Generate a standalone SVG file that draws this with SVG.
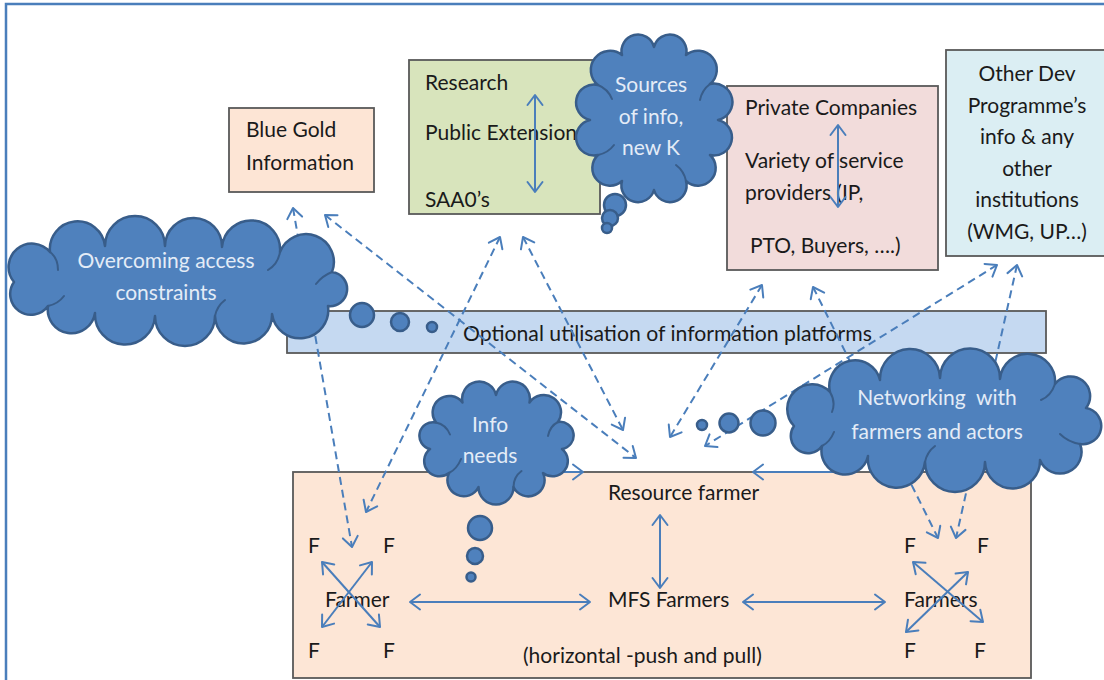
<svg xmlns="http://www.w3.org/2000/svg" width="1104" height="680" viewBox="0 0 1104 680">
  <defs>
    <style>
      .box { stroke: #595959; stroke-width: 1.8; }
      .cloud { fill: #4f81bd; stroke: #385d8a; stroke-width: 2.5; stroke-linejoin: round; }
      .crease { fill: none; stroke: #385d8a; stroke-width: 2; stroke-linecap: round; }
      .lnk { fill: none; stroke: #4a7ebb; stroke-width: 2; }
      .dash { stroke-dasharray: 8 5; }
      .t { font-family: Lato, "Open Sans", "Liberation Sans", sans-serif; font-size: 21px; fill: #1a1a1a; }
      .ct { fill: #e4ecf7; text-anchor: middle; }
      .mid { text-anchor: middle; }
    </style>
    <marker id="ah" viewBox="-12 -10 14 20" markerWidth="14" markerHeight="20" refX="0" refY="0" orient="auto-start-reverse" markerUnits="userSpaceOnUse">
      <path d="M-10,-7.5 L0,0 L-10,7.5" fill="none" stroke="#4a7ebb" stroke-width="2" stroke-linecap="round" stroke-linejoin="round"/>
    </marker>
  </defs>

  <rect width="1104" height="680" fill="#ffffff"/>
  <!-- page frame -->
  <path d="M6,690 V4 H1110" fill="none" stroke="#4a7ebb" stroke-width="2.5"/>

  <g id="blue-gold">
    <rect class="box" x="229" y="108" width="145" height="84" fill="#fde5d5"/>
    <text class="t" x="246" y="137">Blue Gold</text>
    <text class="t" x="246" y="170">Information</text>
  </g>

  <g id="research">
    <rect class="box" x="409" y="60" width="191" height="154" fill="#d8e4bc"/>
    <text class="t" x="425" y="90">Research</text>
    <text class="t" x="425" y="140">Public Extension</text>
    <text class="t" x="425" y="207">SAA0’s</text>
  </g>

  <g id="private-companies">
    <rect class="box" x="727" y="86" width="211" height="184" fill="#f2dcdb"/>
    <text class="t" x="745" y="115">Private Companies</text>
    <text class="t" x="745" y="168">Variety of service</text>
    <text class="t" x="745" y="200">providers (IP,</text>
    <text class="t" x="750" y="253">PTO, Buyers, ….)</text>
  </g>

  <g id="other-dev">
    <rect class="box" x="946" y="50" width="162" height="206" fill="#dbeef3"/>
    <text class="t mid" x="1027" y="81">Other Dev</text>
    <text class="t mid" x="1027" y="112.5">Programme’s</text>
    <text class="t mid" x="1027" y="144">info &amp; any</text>
    <text class="t mid" x="1027" y="175.5">other</text>
    <text class="t mid" x="1027" y="207">institutions</text>
    <text class="t mid" x="1027" y="238.5">(WMG, UP…)</text>
  </g>

  <g id="platforms-bar">
    <rect class="box" x="287" y="311" width="759" height="42" fill="#c5d9f1"/>
    <text class="t" x="463" y="341" style="font-size:21.2px">Optional utilisation of information platforms</text>
  </g>

  <g id="farmers-box">
    <rect class="box" x="293" y="472" width="738" height="206" fill="#fde6d6"/>
    <text class="t" x="608" y="500">Resource farmer</text>
    <text class="t" x="608" y="607">MFS Farmers</text>
    <text class="t" x="523" y="663">(horizontal -push and pull)</text>
    <text class="t" x="308" y="553">F</text>
    <text class="t" x="383" y="553">F</text>
    <text class="t" x="325" y="607">Farmer</text>
    <text class="t" x="308" y="658">F</text>
    <text class="t" x="383" y="658">F</text>
    <text class="t" x="904" y="553">F</text>
    <text class="t" x="977" y="553">F</text>
    <text class="t" x="904" y="607">Farmers</text>
    <text class="t" x="904" y="658">F</text>
    <text class="t" x="974" y="658">F</text>
  </g>

  <g id="connectors">
    <!-- two-way links inside the boxes -->
    <line class="lnk" x1="535" y1="95" x2="535" y2="192" marker-start="url(#ah)" marker-end="url(#ah)"/>
    <line class="lnk" x1="838" y1="125" x2="838" y2="207" marker-start="url(#ah)" marker-end="url(#ah)"/>
    <line class="lnk" x1="660" y1="515" x2="660" y2="588" marker-start="url(#ah)" marker-end="url(#ah)"/>
    <line class="lnk" x1="410" y1="602" x2="590" y2="602" marker-start="url(#ah)" marker-end="url(#ah)"/>
    <line class="lnk" x1="743" y1="602" x2="885" y2="602" marker-start="url(#ah)" marker-end="url(#ah)"/>
    <line class="lnk" x1="322" y1="562" x2="380" y2="627" marker-start="url(#ah)" marker-end="url(#ah)"/>
    <line class="lnk" x1="372" y1="562" x2="322" y2="627" marker-start="url(#ah)" marker-end="url(#ah)"/>
    <line class="lnk" x1="913" y1="562" x2="983" y2="622" marker-start="url(#ah)" marker-end="url(#ah)"/>
    <line class="lnk" x1="968" y1="572" x2="906" y2="632" marker-start="url(#ah)" marker-end="url(#ah)"/>
    <!-- cloud feeds into the resource farmer -->
    <line class="lnk" x1="550" y1="472" x2="583" y2="472" marker-end="url(#ah)"/>
    <line class="lnk" x1="845" y1="472" x2="753" y2="472" marker-end="url(#ah)"/>
    <!-- dashed information flows -->
    <line class="lnk dash" x1="293" y1="208" x2="352" y2="547" marker-start="url(#ah)" marker-end="url(#ah)"/>
    <line class="lnk dash" x1="325" y1="215" x2="636" y2="458" marker-start="url(#ah)" marker-end="url(#ah)"/>
    <line class="lnk dash" x1="500" y1="237" x2="366" y2="512" marker-start="url(#ah)" marker-end="url(#ah)"/>
    <line class="lnk dash" x1="523" y1="237" x2="623" y2="430" marker-start="url(#ah)" marker-end="url(#ah)"/>
    <line class="lnk dash" x1="762" y1="285" x2="670" y2="437" marker-start="url(#ah)" marker-end="url(#ah)"/>
    <line class="lnk dash" x1="813" y1="287" x2="938" y2="538" marker-start="url(#ah)" marker-end="url(#ah)"/>
    <line class="lnk dash" x1="997" y1="265" x2="705" y2="446" marker-start="url(#ah)" marker-end="url(#ah)"/>
    <line class="lnk dash" x1="1017" y1="265" x2="956" y2="538" marker-start="url(#ah)" marker-end="url(#ah)"/>
  </g>

  <g id="overcoming-cloud">
    <path class="cloud" d="M14,282 A1,1 0 0 1 50,252 A1,1 0 0 1 105,246 A1,1 0 0 1 165,246 A1,1 0 0 1 222,247 A1,1 0 0 1 280,252 A1,1 0 0 1 332,272 A1,1 0 0 1 328,306 A1,1 0 0 1 272,314 A1,1 0 0 1 215,316 A1,1 0 0 1 155,316 A1,1 0 0 1 95,313 A1,1 0 0 1 48,306 A1,1 0 0 1 14,282 Z"/>
    <path class="crease" d="M50,252 q8,6 8,18 M280,252 q-2,12 -12,18 M332,272 q-10,4 -16,12 M215,316 q2,-10 10,-16 M48,306 q10,-2 16,-10"/>
    <circle class="cloud" cx="362" cy="315" r="12"/>
    <circle class="cloud" cx="400" cy="322" r="9"/>
    <circle class="cloud" cx="432" cy="327" r="5"/>
    <text class="t ct" x="166" y="268">Overcoming access</text>
    <text class="t ct" x="166" y="300">constraints</text>
  </g>

  <g id="sources-cloud">
    <path class="cloud" d="M654,47 A1,1 0 0 1 686,55 A1,1 0 0 1 710,84 A1,1 0 0 1 718,120 A1,1 0 0 1 710,155 A1,1 0 0 1 686,181 A1,1 0 0 1 654,190 A1,1 0 0 1 622,181 A1,1 0 0 1 598,155 A1,1 0 0 1 590,120 A1,1 0 0 1 598,85 A1,1 0 0 1 622,55 A1,1 0 0 1 654,47 Z"/>
    <path class="crease" d="M598,85 q10,4 14,14 M710,84 q-8,6 -10,16 M686,181 q-2,-10 -10,-16 M598,155 q10,-2 16,-10"/>
    <circle class="cloud" cx="615" cy="205" r="11"/>
    <circle class="cloud" cx="610" cy="218" r="8"/>
    <circle class="cloud" cx="607" cy="228" r="5"/>
    <text class="t ct" x="651" y="92">Sources</text>
    <text class="t ct" x="651" y="124">of info,</text>
    <text class="t ct" x="651" y="155">new K</text>
  </g>

  <g id="info-needs-cloud">
    <path class="cloud" d="M496,395 A1,1 0 0 1 529.5,402.5 A1,1 0 0 1 558,422 A1,1 0 0 1 562,449 A1,1 0 0 1 543,473 A1,1 0 0 1 513.5,487 A1,1 0 0 1 478.5,487 A1,1 0 0 1 449,473 A1,1 0 0 1 430,449 A1,1 0 0 1 436,422.5 A1,1 0 0 1 462.5,402.5 A1,1 0 0 1 496,395 Z"/>
    <path class="crease" d="M436,422.5 q10,2 14,12 M558,422 q-8,4 -10,14 M513.5,487 q0,-10 8,-16 M449,473 q8,-4 12,-14"/>
    <circle class="cloud" cx="480" cy="528" r="12"/>
    <circle class="cloud" cx="475" cy="556" r="8"/>
    <circle class="cloud" cx="471" cy="577" r="4.5"/>
    <text class="t ct" x="490" y="432">Info</text>
    <text class="t ct" x="490" y="463">needs</text>
  </g>

  <g id="networking-cloud">
    <path class="cloud" d="M794,426 A1,1 0 0 1 830,392 A1,1 0 0 1 880,380 A1,1 0 0 1 940,378 A1,1 0 0 1 1000,379 A1,1 0 0 1 1055,384 A1,1 0 0 1 1086,408 A1,1 0 0 1 1080,444 A1,1 0 0 1 1040,460 A1,1 0 0 1 985,462 A1,1 0 0 1 925,462 A1,1 0 0 1 868,456 A1,1 0 0 1 822,446 A1,1 0 0 1 794,426 Z"/>
    <path class="crease" d="M830,392 q6,10 2,20 M1055,384 q-4,12 -14,16 M1080,444 q-12,-2 -20,-10 M925,462 q2,-10 10,-16 M822,446 q8,-4 12,-14"/>
    <circle class="cloud" cx="702" cy="425" r="5"/>
    <circle class="cloud" cx="729" cy="423" r="9.5"/>
    <circle class="cloud" cx="763" cy="423" r="12.5"/>
    <text class="t ct" x="937" y="405" style="white-space:pre">Networking  with</text>
    <text class="t ct" x="937" y="439">farmers and actors</text>
  </g>
</svg>
